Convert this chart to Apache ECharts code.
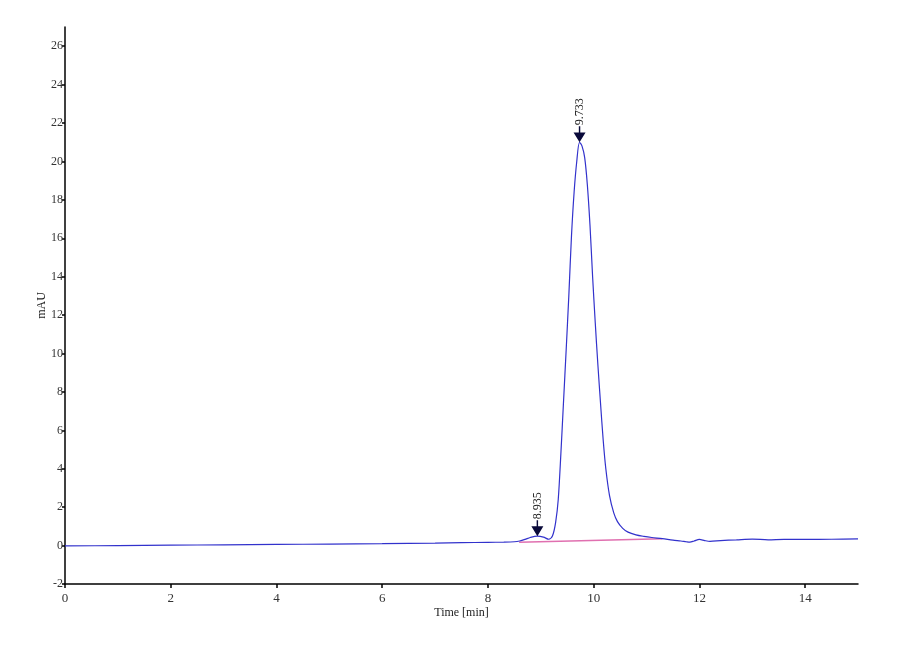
<!DOCTYPE html>
<html>
<head>
<meta charset="utf-8">
<script src="https://cdn.jsdelivr.net/npm/echarts@6/dist/echarts.min.js"></script>
<style>
  html, body { margin: 0; padding: 0; background: #fff; }
  #chart { width: 900px; height: 660px; }
</style>
</head>
<body>
<div id="chart"></div>
<script>
// retention time (min) and signal (mAU)
const times = [0, 1, 2, 3, 4, 5, 6, 7, 7.5, 8, 8.3, 8.5, 8.6, 8.7, 8.8, 8.935, 9.05, 9.15,
  9.22, 9.28, 9.33, 9.38, 9.43, 9.48, 9.53, 9.58, 9.63, 9.68, 9.733, 9.78, 9.83, 9.88,
  9.93, 9.98, 10.03, 10.08, 10.13, 10.18, 10.23, 10.3, 10.38, 10.45, 10.55, 10.65, 10.8,
  10.95, 11.1, 11.3, 11.5, 11.65, 11.75, 11.82, 11.9, 12.0, 12.1, 12.2, 12.4, 12.7, 13.0,
  13.3, 13.6, 14.0, 14.5, 15.0]
const signal = [-0.02, 0.0, 0.02, 0.04, 0.06, 0.08, 0.1, 0.13, 0.15, 0.17, 0.18, 0.2, 0.24,
  0.32, 0.42, 0.49, 0.44, 0.33, 0.5, 1.2, 2.4, 4.8, 7.5, 10.2, 13.0, 16.1, 18.4, 20.0, 21.0,
  20.8, 20.2, 18.8, 16.7, 14.0, 11.6, 9.4, 7.4, 5.5, 4.0, 2.6, 1.7, 1.25, 0.9, 0.7, 0.56,
  0.48, 0.42, 0.36, 0.28, 0.24, 0.2, 0.18, 0.24, 0.32, 0.26, 0.22, 0.26, 0.3, 0.34, 0.3,
  0.32, 0.32, 0.33, 0.35]
// integration baseline under the peaks
const baseTimes = [8.59, 11.3]
const baseSignal = [0.18, 0.36]
// detected peaks
const peakTimes = [8.935, 9.733]
const peakHeights = [0.49, 21.0]
const xTicks = [0, 2, 4, 6, 8, 10, 12, 14]
const yTicks = [-2, 0, 2, 4, 6, 8, 10, 12, 14, 16, 18, 20, 22, 24, 26]

const myChart = echarts.init(document.getElementById('chart'))
const serif = 'Liberation Serif'
const arrow = 'path://M0,5 L10,5 L5,13 Z M4.4,0 L5.6,0 L5.6,5 L4.4,5 Z'

const option = {
  backgroundColor: '#fff',
  animation: false,
  grid: { left: 65, right: 42, top: 27, bottom: 76 },
  xAxis: {
    type: 'value',
    min: 0,
    max: 15,
    name: 'Time [min]',
    nameLocation: 'middle',
    nameGap: 23,
    nameMoveOverlap: false,
    nameTextStyle: { fontFamily: serif, fontSize: 12, color: '#222' },
    axisLine: { onZero: false, lineStyle: { color: '#000', width: 1.5 } },
    axisTick: { customValues: xTicks, length: 4, lineStyle: { color: '#000', width: 1.5 } },
    axisLabel: { customValues: xTicks, fontFamily: serif, fontSize: 13, color: '#333', margin: 8 },
    splitLine: { show: false }
  },
  yAxis: {
    type: 'value',
    min: -2,
    max: 27,
    name: 'mAU',
    nameLocation: 'middle',
    nameGap: 17,
    nameMoveOverlap: false,
    nameTextStyle: { fontFamily: serif, fontSize: 12, color: '#222' },
    axisLine: { show: true, onZero: false, lineStyle: { color: '#000', width: 1.5 } },
    axisTick: { show: true, customValues: yTicks, length: 3, lineStyle: { color: '#000', width: 1.5 } },
    axisLabel: { customValues: yTicks, fontFamily: serif, fontSize: 12, color: '#333', margin: 2 },
    splitLine: { show: false }
  },
  series: [
    {
      type: 'line',
      data: baseTimes.map((t, i) => [t, baseSignal[i]]),
      symbol: 'none',
      lineStyle: { color: '#e070b0', width: 1.5 },
      z: 2
    },
    {
      type: 'line',
      data: times.map((t, i) => [t, signal[i]]),
      symbol: 'none',
      smooth: 0.3,
      lineStyle: { color: '#3232cc', width: 1.2 },
      z: 3,
      markPoint: {
        symbol: arrow,
        symbolSize: [12, 16],
        symbolOffset: [0, -8],
        itemStyle: { color: '#0a0a3a' },
        label: {
          show: true,
          position: 'top',
          rotate: 90,
          align: 'left',
          verticalAlign: 'middle',
          distance: 1,
          fontFamily: serif,
          fontSize: 12,
          color: '#222',
          formatter: p => p.data.coord[0].toFixed(3)
        },
        data: peakTimes.map((t, i) => ({ coord: [t, peakHeights[i]] }))
      }
    }
  ]
}

myChart.setOption(option)
</script>
</body>
</html>
